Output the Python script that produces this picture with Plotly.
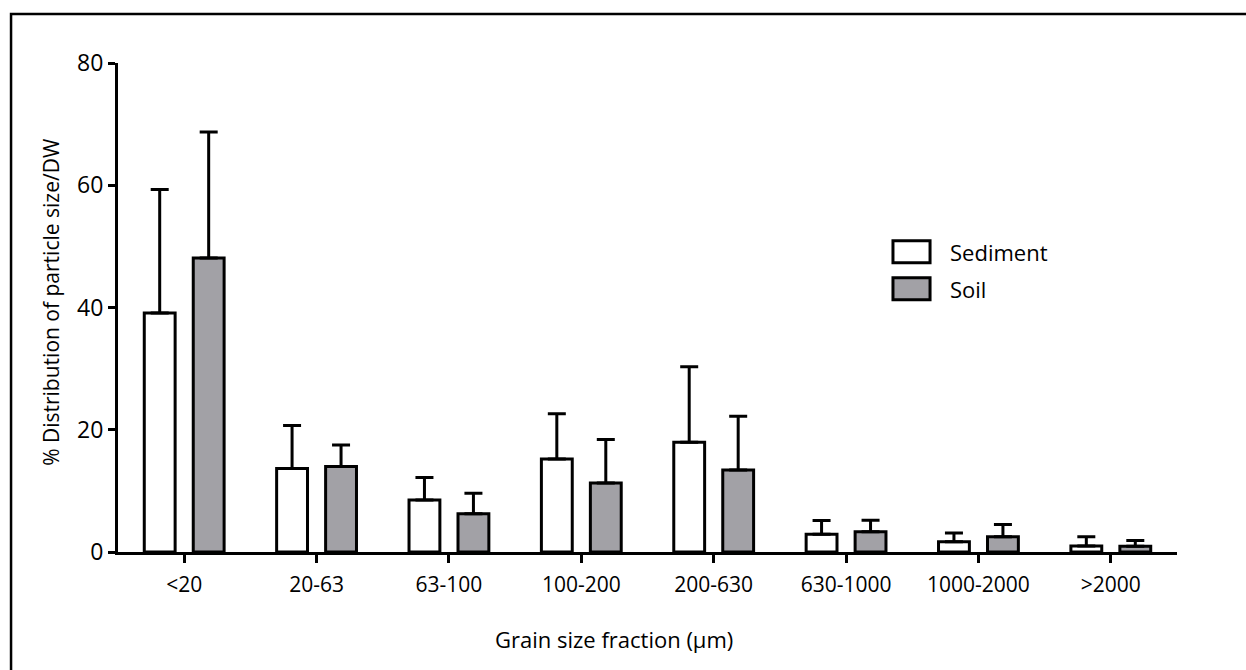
import plotly.graph_objects as go

# Grain size fractions (µm)
fractions = ["<20", "20-63", "63-100", "100-200", "200-630", "630-1000", "1000-2000", ">2000"]

# Mean % distribution and standard deviation per fraction
sediment_mean = [39.1, 13.65, 8.5, 15.2, 17.95, 2.9, 1.67, 1.0]
sediment_sd = [20.2, 7.05, 3.7, 7.4, 12.35, 2.25, 1.43, 1.5]
soil_mean = [48.1, 14.0, 6.25, 11.3, 13.4, 3.3, 2.5, 0.95]
soil_sd = [20.6, 3.5, 3.35, 7.1, 8.8, 1.9, 2.0, 0.95]

y_ticks = [0, 20, 40, 60, 80]

FONT = "Open Sans"
GREY = "#a2a1a6"


def err(sd):
    return dict(type="data", array=sd, arrayminus=[0] * len(sd), symmetric=False,
                thickness=3, width=9, color="black")


fig = go.Figure()
fig.add_trace(go.Bar(
    x=fractions, y=sediment_mean, name="Sediment",
    marker=dict(color="white", line=dict(color="black", width=3)),
    error_y=err(sediment_sd),
))
fig.add_trace(go.Bar(
    x=fractions, y=soil_mean, name="Soil",
    marker=dict(color=GREY, line=dict(color="black", width=3)),
    error_y=err(soil_sd),
))

fig.update_layout(
    width=1246, height=670,
    margin=dict(l=118, r=69, t=63, b=117.5, pad=0),
    paper_bgcolor="white", plot_bgcolor="white",
    barmode="group", bargap=0.26, bargroupgap=0.37,
    showlegend=False,
    font=dict(family=FONT, size=22, color="black"),
)
fig.update_xaxes(
    showline=True, linecolor="black", linewidth=3,
    ticks="outside", ticklen=8, tickwidth=3, tickcolor="black",
    showgrid=False, zeroline=False,
    range=[-0.5, 7.5],
    tickfont=dict(size=21), ticklabelstandoff=4,
)
fig.update_yaxes(
    showline=True, linecolor="black", linewidth=3,
    ticks="outside", ticklen=7, tickwidth=3, tickcolor="black",
    showgrid=False, zeroline=False,
    range=[0, 80], tickvals=y_ticks,
    tickfont=dict(size=23),
)

# Axis titles
fig.add_annotation(text="Grain size fraction (µm)", xref="paper", yref="paper",
                   x=0.468, y=-0.178, showarrow=False, font=dict(size=22),
                   xanchor="center", yanchor="middle")
fig.add_annotation(text="% Distribution of particle size/DW", xref="paper", yref="paper",
                   x=-0.064, y=0.512, showarrow=False, textangle=-90, font=dict(size=21),
                   xanchor="center", yanchor="middle")

# Legend drawn as boxes with labels
legend_items = [("Sediment", "white", 0.6364, 0.5914, 0.6139),
                ("Soil", GREY, 0.5608, 0.5158, 0.5383)]
for label, fill, y_top, y_bot, y_mid in legend_items:
    fig.add_shape(type="rect", xref="paper", yref="paper",
                  x0=0.7318, x1=0.7668, y0=y_bot, y1=y_top,
                  fillcolor=fill, line=dict(color="black", width=3))
    fig.add_annotation(text=label, xref="paper", yref="paper", x=0.7838, y=y_mid,
                       showarrow=False, xanchor="left", yanchor="middle",
                       font=dict(size=22))

# Outer frame
fig.add_shape(type="rect", xref="paper", yref="paper",
              x0=-0.101, x1=1.3, y0=-0.5, y1=1.1,
              fillcolor="rgba(0,0,0,0)", line=dict(color="black", width=2.5), layer="below")

fig.write_html("out.html")
